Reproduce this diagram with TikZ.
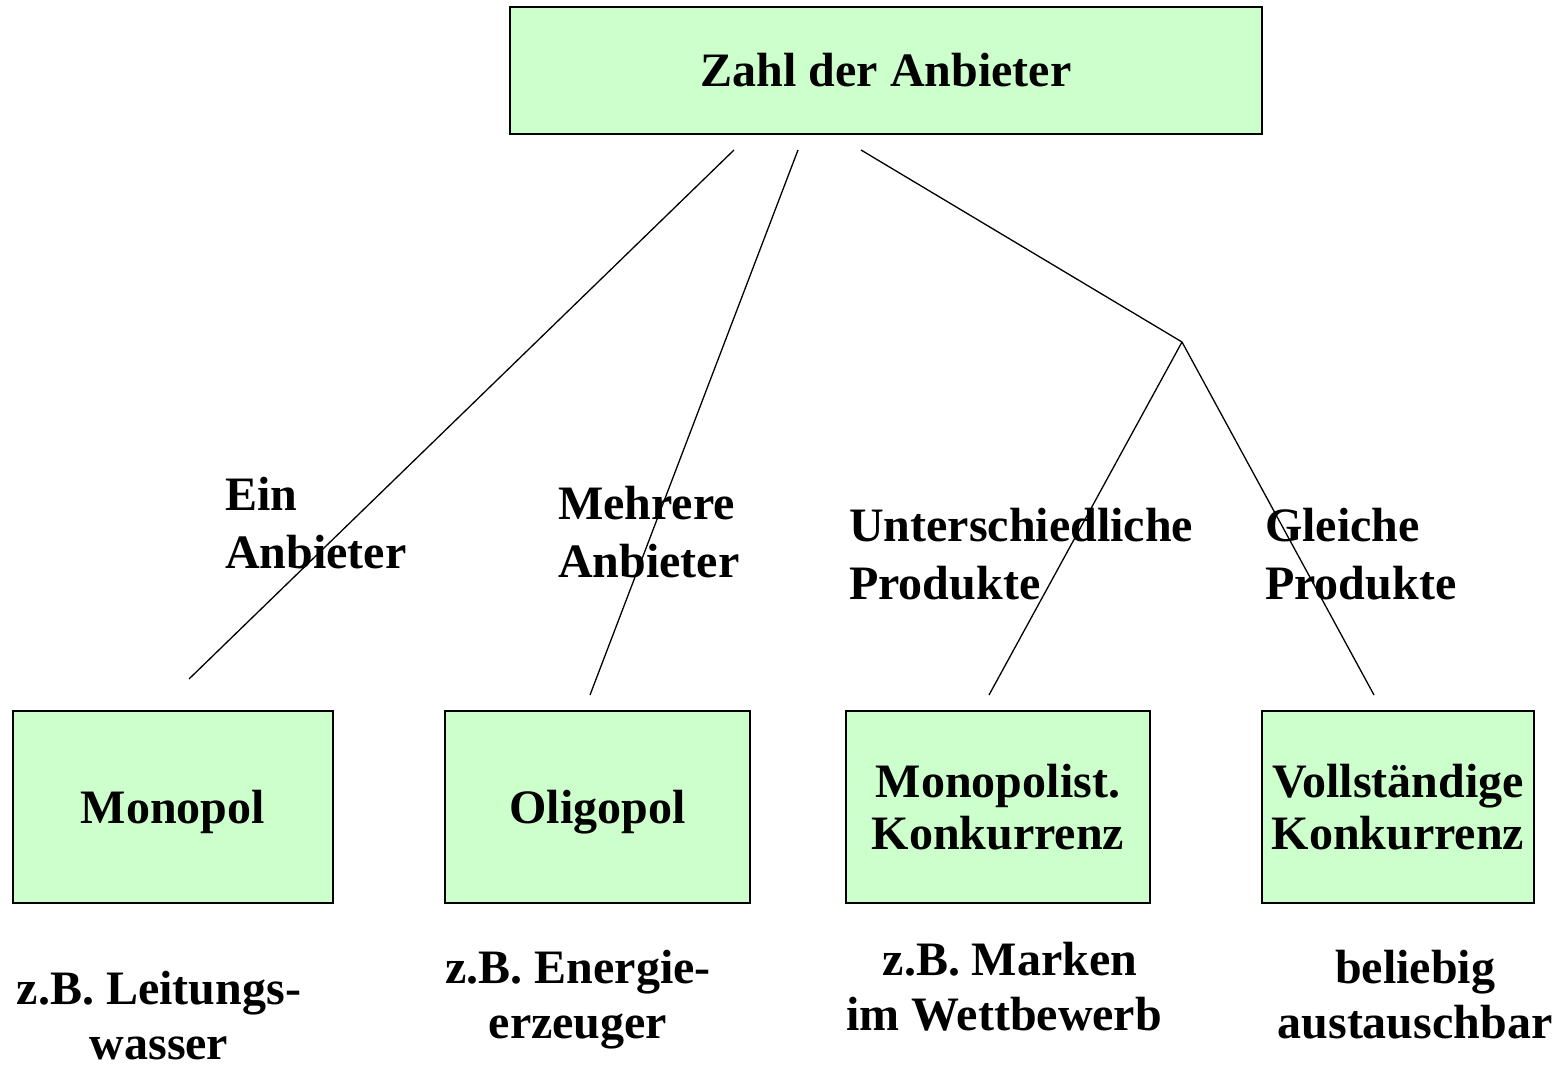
\documentclass[tikz,border=0pt]{standalone}
\usepackage{fontspec}
\setmainfont{Liberation Serif}
\definecolor{boxfill}{HTML}{CCFFCC}
\begin{document}
\begin{tikzpicture}[x=1pt,y=-1pt,
  every node/.style={font=\fontsize{48}{52}\selectfont\bfseries, inner sep=0pt},
  box/.style={draw=black, line width=1.5pt, fill=boxfill, align=center},
  lbl/.style={align=left, anchor=north west, font=\fontsize{48}{57.5}\selectfont\bfseries},
  note/.style={align=center, anchor=north, font=\fontsize{48}{55}\selectfont\bfseries},
  conn/.style={line width=1.3pt}]
\useasboundingbox (0,0) rectangle (1558,1068);
% boxes
\node[box, minimum width=752pt, minimum height=127pt] (top) at (886,70.5) {Zahl der Anbieter};
\node[box, minimum width=320pt, minimum height=192pt, text depth=0pt] (mono) at (173,807) {Monopol};
\node[box, minimum width=305pt, minimum height=192pt, text depth=0pt] (oligo) at (597.5,807) {Oligopol};
\node[box, minimum width=304pt, minimum height=192pt] (mkonk) at (998,807) {Monopolist.\\Konkurrenz};
\node[box, minimum width=272pt, minimum height=192pt] (vkonk) at (1398,807) {Vollständige\\Konkurrenz};
% connector end points
\coordinate (s1) at (734,150);
\coordinate (s2) at (798,150);
\coordinate (s3) at (861,150);
\coordinate (fork) at (1182,342);
\coordinate (e1) at (189,679);
\coordinate (e2) at (590,695);
\coordinate (e3) at (989,695);
\coordinate (e4) at (1374,695);
\draw[conn] (s1) -- (e1);
\draw[conn] (s2) -- (e2);
\draw[conn] (s3) -- (fork);
\draw[conn] (fork) -- (e3);
\draw[conn] (fork) -- (e4);
% branch labels
\node[lbl] (l1) at (225,477) {Ein\\Anbieter};
\node[lbl] (l2) at (558,486) {Mehrere\\Anbieter};
\node[lbl] (l3) at (849,508) {Unterschiedliche\\Produkte};
\node[lbl] (l4) at (1265,508) {Gleiche\\Produkte};
% examples
\node[note] (n1) at (159,971) {z.B. Leitungs-\\wasser};
\node[note] (n2) at (578,950) {z.B. Energie-\\erzeuger};
\node[note] (n3) at (1004,942) {\hspace*{12pt}z.B. Marken\\im Wettbewerb};
\node[note] (n4) at (1415,950) {beliebig\\austauschbar};
\end{tikzpicture}
\end{document}
